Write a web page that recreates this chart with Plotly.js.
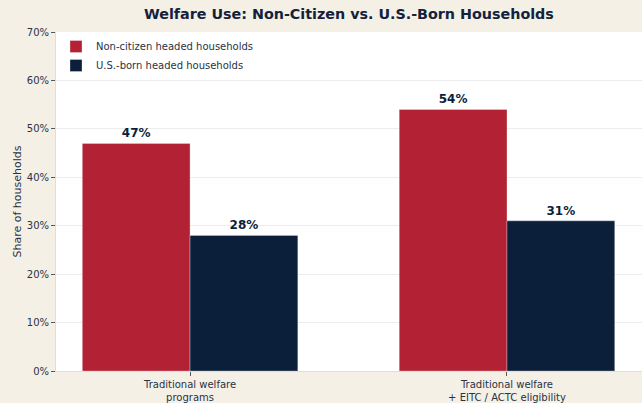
<!DOCTYPE html>
<html>
<head>
<meta charset="utf-8">
<script src="https://cdn.plot.ly/plotly-3.0.1.min.js"></script>
<style>
  html, body { margin: 0; padding: 0; background: #f4f0e6; }
  #chart { width: 642px; height: 403px; }
</style>
</head>
<body>
<div id="chart"></div>
<script>
// Values
const categories = ['Traditional welfare<br>programs', 'Traditional welfare<br>+ EITC / ACTC eligibility'];
const nonCitizen = [47, 54];
const usBorn = [28, 31];
const yTicks = [0, 10, 20, 30, 40, 50, 60, 70];

const RED = '#b22234';
const NAVY = '#0c1f3a';
const INK = '#2b3244';

const barTrace = (name, values, color) => ({
  type: 'bar',
  name,
  x: categories,
  y: values,
  marker: { color, line: { color: 'rgba(255,255,255,0.6)', width: 0.5 } },
  text: values.map(v => v + '%'),
  textposition: 'outside',
  textfont: { family: 'DejaVu Sans', size: 12, color: NAVY, weight: 'bold' },
  cliponaxis: false,
  hoverinfo: 'skip',
});

const traces = [
  barTrace('Non-citizen headed households', nonCitizen, RED),
  barTrace('U.S.-born headed households', usBorn, NAVY),
];

Plotly.newPlot('chart', traces, {
  width: 642,
  height: 403,
  title: {
    text: '<b>Welfare Use: Non-Citizen vs. U.S.-Born Households</b>',
    font: { family: 'DejaVu Sans', size: 14.3, color: '#14213d' },
    x: 0.5435, xanchor: 'center', y: 0.965, yanchor: 'middle',
  },
  paper_bgcolor: '#f4f0e6',
  plot_bgcolor: '#ffffff',
  font: { family: 'DejaVu Sans', color: INK, size: 10 },
  barmode: 'group',
  bargap: 0.32,
  bargroupgap: 0,
  margin: { l: 56, r: 0, t: 32, b: 32 },
  xaxis: {
    range: [-0.423, 1.426],
    showgrid: false,
    ticks: 'outside', ticklen: 4, tickcolor: '#555',
    tickfont: { size: 10, color: INK },
    showline: true, linecolor: '#dddddd', linewidth: 1,
    fixedrange: true,
  },
  yaxis: {
    range: [0, 70],
    tickvals: yTicks,
    ticktext: yTicks.map(v => v + '%'),
    ticks: 'outside', ticklen: 4, tickcolor: '#555',
    tickfont: { size: 10, color: INK },
    gridcolor: '#ececec', gridwidth: 1,
    showline: true, linecolor: '#dddddd', linewidth: 1,
    zeroline: false,
    title: { text: 'Share of households', font: { size: 11, color: INK }, standoff: 2 },
    fixedrange: true,
  },
  legend: {
    x: 0.0, y: 1.0, xanchor: 'left', yanchor: 'top',
    bgcolor: 'rgba(255,255,255,0.9)',
    font: { size: 10, color: INK },
    itemwidth: 30,
    tracegroupgap: 0,
  },
  showlegend: true,
}, { displayModeBar: false, staticPlot: true });
</script>
</body>
</html>
